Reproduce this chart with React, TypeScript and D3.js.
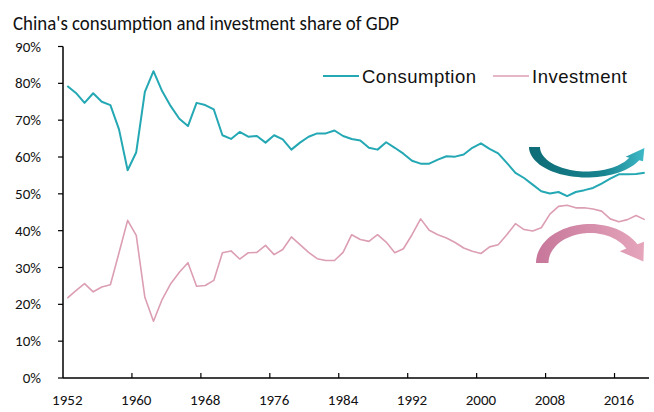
import * as React from 'react'
import * as d3 from 'd3'

const years = d3.range(1952, 2020)

const consumption = [
  79.3, 77.4, 74.7, 77.3, 75.0, 74.1, 67.5, 56.4, 61.3, 77.7,
  83.3, 77.9, 73.8, 70.4, 68.4, 74.7, 74.1, 72.9, 65.9, 64.9,
  66.8, 65.5, 65.7, 63.9, 65.9, 64.8, 62.0, 63.9, 65.5, 66.4,
  66.4, 67.2, 65.7, 64.9, 64.5, 62.5, 62.0, 64.0, 62.5, 60.9,
  59.0, 58.2, 58.2, 59.3, 60.2, 60.1, 60.7, 62.5, 63.7, 62.2,
  61.0, 58.4, 55.7, 54.3, 52.5, 50.7, 50.1, 50.5, 49.4, 50.5,
  51.0, 51.6, 52.8, 54.1, 55.3, 55.3, 55.4, 55.7,
]

const investment = [
  21.7, 23.7, 25.6, 23.4, 24.7, 25.3, 34.0, 42.8, 38.7, 21.9,
  15.4, 21.3, 25.6, 28.7, 31.3, 24.9, 25.1, 26.5, 34.0, 34.5,
  32.3, 34.0, 34.1, 36.0, 33.5, 34.9, 38.3, 36.2, 34.1, 32.4,
  31.9, 31.9, 34.1, 38.9, 37.6, 37.1, 38.9, 36.9, 34.0, 35.1,
  38.9, 43.2, 40.1, 38.9, 38.0, 36.8, 35.3, 34.4, 33.8, 35.6,
  36.2, 38.9, 41.9, 40.3, 39.9, 40.8, 44.5, 46.6, 46.9, 46.2,
  46.2, 45.9, 45.3, 43.2, 42.4, 43.0, 44.1, 43.0,
]

const yTicks = [0, 10, 20, 30, 40, 50, 60, 70, 80, 90]
const labelYears = [1952, 1960, 1968, 1976, 1984, 1992, 2000, 2008, 2016]
const tickYears = [1960, 1968, 1976, 1984, 1992, 2000, 2008, 2016]

const seriesNames = ['Consumption', 'Investment']
const seriesColors = ['#24a8b4', '#dc9eb2']

const calibri = 'Carlito, Calibri, Lato, sans-serif'
const arial = '"Liberation Sans", Arial, sans-serif'

// thick curved arrow (office style), flip = 1 -> U shape, -1 -> arch
function curvedArrow(cx, cy, rxo, ryo, dx, dy, te, headLen, headHalf, flip) {
  const n = 40
  const outer = []
  const inner = []
  for (let k = 0; k <= n; k++) {
    const t = Math.PI - ((Math.PI - te) * k) / n
    outer.push([cx + rxo * Math.cos(t), cy + flip * ryo * Math.sin(t)])
    inner.push([cx + (rxo - dx) * Math.cos(t), cy + flip * (ryo - dy) * Math.sin(t)])
  }
  const o = outer[n]
  const i = inner[n]
  const mid = [(o[0] + i[0]) / 2, (o[1] + i[1]) / 2]
  let nx = o[0] - i[0]
  let ny = o[1] - i[1]
  const nl = Math.hypot(nx, ny)
  nx /= nl
  ny /= nl
  const rxm = rxo - dx / 2
  const rym = ryo - dy / 2
  let tx = rxm * Math.sin(te)
  let ty = -flip * rym * Math.cos(te)
  const tl = Math.hypot(tx, ty)
  tx /= tl
  ty /= tl
  const tip = [mid[0] + tx * headLen, mid[1] + ty * headLen]
  const hb1 = [mid[0] + nx * headHalf, mid[1] + ny * headHalf]
  const hb2 = [mid[0] - nx * headHalf, mid[1] - ny * headHalf]
  const pts = [...outer, hb1, tip, hb2, ...inner.reverse()]
  return 'M' + pts.map((p) => p[0].toFixed(1) + ',' + p[1].toFixed(1)).join('L') + 'Z'
}

export default function App() {
  const x = d3.scaleBand().domain(years.map(String)).range([63, 649]).padding(0)
  const y = d3.scaleLinear().domain([0, 90]).range([378, 46.5])
  const bw = x.bandwidth()
  const cxOf = (yr) => x(String(yr)) + bw / 2

  const line = d3
    .line()
    .x((d) => cxOf(d[0]))
    .y((d) => y(d[1]))

  const series = [consumption, investment].map((vals) => years.map((yr, i) => [yr, vals[i]]))

  return (
    <svg width={654} height={412} style={{ position: 'absolute', left: 0, top: 0, background: '#fff' }}>
      <defs>
        <linearGradient id="tealGrad" x1="0" x2="1" y1="0" y2="0">
          <stop offset="0" stopColor="#0e6c76" />
          <stop offset="0.65" stopColor="#17838f" />
          <stop offset="1" stopColor="#3fb9c7" />
        </linearGradient>
        <linearGradient id="pinkGrad" x1="0" x2="1" y1="0" y2="0">
          <stop offset="0" stopColor="#c7779a" />
          <stop offset="1" stopColor="#e5a5bb" />
        </linearGradient>
      </defs>

      <text x={13} y={30} fontFamily={calibri} fontSize={20} fill="#111" textLength={386} lengthAdjust="spacingAndGlyphs">
        China's consumption and investment share of GDP
      </text>

      {/* y axis */}
      <line x1={63} x2={63} y1={y(90)} y2={y(0)} stroke="#000" strokeWidth={1.5} />
      {yTicks.map((t) => (
        <g key={t}>
          <line x1={58} x2={63} y1={y(t)} y2={y(t)} stroke="#000" strokeWidth={1.2} />
          <text x={41} y={y(t) + 5} textAnchor="end" fontFamily={calibri} fontSize={15} fill="#111">
            {t}%
          </text>
        </g>
      ))}

      {/* x axis */}
      <line x1={63} x2={649} y1={y(0)} y2={y(0)} stroke="#000" strokeWidth={1.5} />
      {tickYears.map((yr) => (
        <line key={yr} x1={x(String(yr))} x2={x(String(yr))} y1={y(0)} y2={y(0) - 5} stroke="#000" strokeWidth={1.2} />
      ))}
      {labelYears.map((yr) => (
        <text key={yr} x={cxOf(yr)} y={405} textAnchor="middle" fontFamily={calibri} fontSize={15} fill="#111">
          {yr}
        </text>
      ))}

      {/* lines */}
      {series.map((s, i) => (
        <path key={i} d={line(s)} fill="none" stroke={seriesColors[i]} strokeWidth={i === 0 ? 2 : 1.6} strokeLinejoin="round" />
      ))}

      {/* legend */}
      {seriesNames.map((name, i) => {
        const lx = i === 0 ? 323 : 493
        return (
          <g key={name}>
            <line x1={lx} x2={lx + 36} y1={76} y2={76} stroke={seriesColors[i]} strokeWidth={i === 0 ? 2 : 1.6} />
            <text x={lx + 39} y={83} fontFamily={arial} fontSize={18.5} letterSpacing={0.5} fill="#111">
              {name}
            </text>
          </g>
        )
      })}

      {/* arrows */}
      <path d={curvedArrow(587, 147, 58, 30.5, 11, 6, 0.45, 15, 9, 1)} fill="url(#tealGrad)" />
      <path d={curvedArrow(590, 263, 54, 39, 12.5, 9, 0.5, 19, 13, -1)} fill="url(#pinkGrad)" />
    </svg>
  )
}
